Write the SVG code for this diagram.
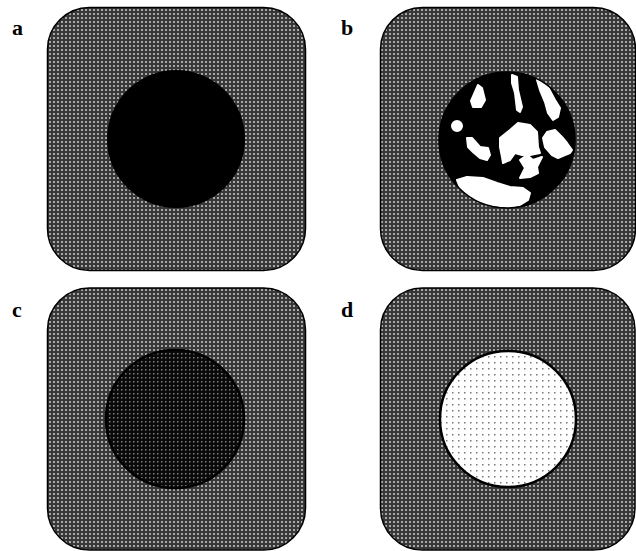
<svg xmlns="http://www.w3.org/2000/svg" width="636" height="551" viewBox="0 0 636 551">
<style>
.panel{fill:url(#dots);stroke:#000;stroke-width:1.5}
.lbl{font-family:"Liberation Serif",serif;font-weight:bold;font-size:22px;fill:#000}
.blob{fill:#fff;stroke:#fff;stroke-width:2;stroke-linejoin:round}
</style>
<defs>
<pattern id="dots" width="4" height="4" patternUnits="userSpaceOnUse">
<rect width="4" height="4" fill="#383838"/>
<rect x="1" y="1" width="2" height="2" fill="#a8a8a8"/>
</pattern>
<pattern id="darkdots" width="4" height="4" patternUnits="userSpaceOnUse">
<rect width="4" height="4" fill="#0a0a0a"/>
<rect x="1" y="1" width="1.5" height="1.5" fill="#808080"/>
</pattern>
<pattern id="whitedots" width="12" height="12" patternUnits="userSpaceOnUse">
<rect width="12" height="12" fill="#fff"/>
<rect x="2" y="2" width="1.5" height="1.5" fill="#777"/>
<rect x="8" y="8" width="1.5" height="1.5" fill="#777"/>
<rect x="8" y="2" width="1.5" height="1.5" fill="#777"/>
<rect x="2" y="8" width="1.5" height="1.5" fill="#777"/>
</pattern>
<clipPath id="clipb"><circle cx="507" cy="140" r="68"/></clipPath>
</defs>

<g id="panel-a">
<rect class="panel" x="47.5" y="7.5" width="258" height="263" rx="42"/>
<circle cx="176" cy="139" r="69" fill="#000"/>
<text class="lbl" x="12" y="35">a</text>
</g>

<g id="panel-b">
<rect class="panel" x="380.5" y="7.5" width="255" height="263" rx="42"/>
<circle cx="507" cy="140" r="68" fill="#000"/>
<g clip-path="url(#clipb)">
<path class="blob" d="M478,85 L482,88 L485,100 L481,107 L473,107 L471,101 Z"/>
<path class="blob" d="M512,75 L517,77 L518,90 L522,107 L520,112 L517,110 L515,93 L512,83 Z"/>
<path class="blob" d="M537,80 L543,78 L548,87 L555,100 L560,108 L558,117 L553,120 L548,113 L545,102 L540,90 Z"/>
<circle class="blob" cx="457" cy="126" r="5"/>
<path class="blob" d="M467,138 L472,138 L480,147 L488,148 L490,155 L487,160 L480,158 L473,152 L468,147 Z"/>
<path class="blob" d="M500,138 L510,130 L518,123 L530,125 L537,132 L538,147 L540,153 L530,155 L522,155 L515,153 L510,160 L503,163 L502,157 L500,147 Z"/>
<path class="blob" d="M520,160 L527,155 L533,160 L542,157 L537,167 L538,173 L530,177 L520,178 L525,168 Z"/>
<path class="blob" d="M547,132 L555,130 L562,137 L567,143 L572,150 L570,153 L565,155 L558,158 L552,155 L545,147 L543,138 Z"/>
<path class="blob" d="M457,180 L467,177 L483,178 L497,183 L510,187 L523,188 L530,193 L528,200 L520,205 L510,207 L490,205 L473,200 L462,192 Z"/>
</g>
<circle cx="507" cy="140" r="68" fill="none" stroke="#000" stroke-width="1.5"/>
<text class="lbl" x="341" y="35">b</text>
</g>

<g id="panel-c">
<rect class="panel" x="47.5" y="288" width="258" height="262" rx="42"/>
<circle cx="175" cy="419" r="69" fill="url(#darkdots)" stroke="#000" stroke-width="2.5"/>
<text class="lbl" x="12" y="317">c</text>
</g>

<g id="panel-d">
<rect class="panel" x="380.5" y="288" width="254.5" height="262" rx="42"/>
<circle cx="508" cy="419" r="68" fill="url(#whitedots)" stroke="#000" stroke-width="2.5"/>
<text class="lbl" x="341" y="317">d</text>
</g>
</svg>
